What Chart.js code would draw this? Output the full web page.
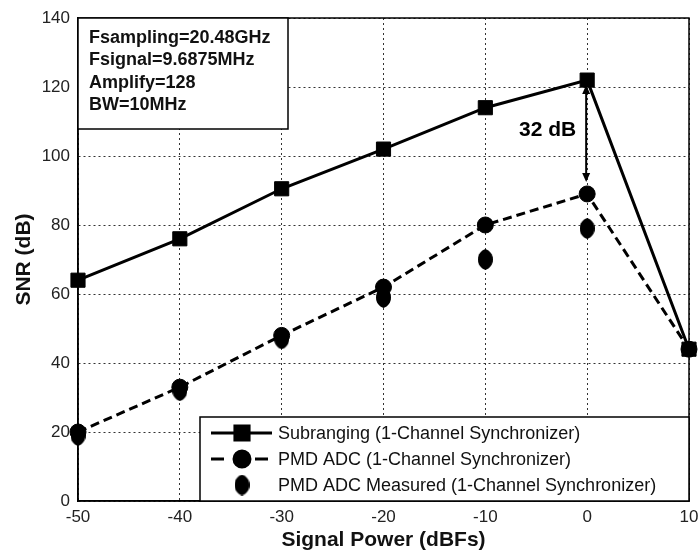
<!DOCTYPE html>
<html>
<head>
<meta charset="utf-8">
<script src="https://cdn.jsdelivr.net/npm/chart.js@4"></script>
<style>
html, body { margin: 0; padding: 0; background: #fff; }
</style>
</head>
<body>
<canvas id="graficoSnr" width="700" height="554"></canvas>
<script>
// Dados
const potenciaSinal = [-50, -40, -30, -20, -10, 0, 10];
const snrSubranging = [64, 76, 90.5, 102, 114, 122, 44];
const snrPmd = [20, 33, 48, 62, 80, 89, 44];
const potenciaMedida = [-50, -40, -30, -20, -10, 0];
const snrPmdMedido = [19, 32, 47, 59, 70, 79];
const ticksX = [-50, -40, -30, -20, -10, 0, 10];
const ticksY = [0, 20, 40, 60, 80, 100, 120, 140];
const rotulos = [
    'Subranging (1-Channel Synchronizer)',
    'PMD ADC (1-Channel Synchronizer)',
    'PMD ADC Measured (1-Channel Synchronizer)'
];
const textoInfo = ['Fsampling=20.48GHz', 'Fsignal=9.6875MHz', 'Amplify=128', 'BW=10MHz'];
const diferenca = { x: 0, de: 120.6, ate: 92.5, texto: '32 dB' };

// marcador "diamante" arredondado da série medida
function criaDiamante(w, h) {
    const c = document.createElement('canvas');
    c.width = w; c.height = h;
    const g = c.getContext('2d');
    g.fillStyle = '#000';
    g.beginPath();
    g.moveTo(w / 2, 0);
    g.bezierCurveTo(w * 0.8, h * 0.08, w, h * 0.25, w, h / 2);
    g.bezierCurveTo(w, h * 0.75, w * 0.8, h * 0.92, w / 2, h);
    g.bezierCurveTo(w * 0.2, h * 0.92, 0, h * 0.75, 0, h / 2);
    g.bezierCurveTo(0, h * 0.25, w * 0.2, h * 0.08, w / 2, 0);
    g.fill();
    return c;
}
const diamante = criaDiamante(15, 21);

const pontos = (xs, ys) => ys.map((y, i) => ({ x: xs[i], y: y }));

const molduraPlugin = {
    id: 'moldura',
    afterDraw(chart) {
        const ctx = chart.ctx;
        const a = chart.chartArea;
        const ys = chart.scales.y;
        const xs = chart.scales.x;
        ctx.save();
        // caixa do gráfico
        ctx.strokeStyle = '#000';
        ctx.lineWidth = 1.5;
        ctx.strokeRect(a.left, a.top, a.right - a.left, a.bottom - a.top);

        // caixa de informações
        ctx.fillStyle = '#fff';
        ctx.fillRect(a.left, a.top, 210, 111);
        ctx.strokeRect(a.left, a.top, 210, 111);
        ctx.fillStyle = '#111';
        ctx.font = 'bold 18px Arial, "Liberation Sans", sans-serif';
        ctx.textBaseline = 'alphabetic';
        textoInfo.forEach((t, i) => ctx.fillText(t, a.left + 11, a.top + 25 + i * 22.4));

        // seta de 32 dB
        const px = xs.getPixelForValue(diferenca.x) - 1;
        const y1 = ys.getPixelForValue(diferenca.de);
        const y2 = ys.getPixelForValue(diferenca.ate);
        ctx.fillStyle = '#000';
        ctx.lineWidth = 2;
        ctx.beginPath();
        ctx.moveTo(px, y1 + 6);
        ctx.lineTo(px, y2 - 6);
        ctx.stroke();
        ctx.beginPath();
        ctx.moveTo(px, y1); ctx.lineTo(px - 4, y1 + 9); ctx.lineTo(px + 4, y1 + 9); ctx.closePath();
        ctx.moveTo(px, y2); ctx.lineTo(px - 4, y2 - 9); ctx.lineTo(px + 4, y2 - 9); ctx.closePath();
        ctx.fill();
        ctx.font = 'bold 21px Arial, "Liberation Sans", sans-serif';
        ctx.textAlign = 'right';
        ctx.textBaseline = 'middle';
        ctx.fillText(diferenca.texto, px - 10, (y1 + y2) / 2 - 3);

        // legenda
        const lx = 200, ly = 417;
        ctx.fillStyle = '#fff';
        ctx.fillRect(lx, ly, a.right - lx, a.bottom - ly);
        ctx.lineWidth = 1.5;
        ctx.strokeRect(lx, ly, a.right - lx, a.bottom - ly);
        const linhas = [433, 459, 485];
        ctx.textAlign = 'left';
        ctx.font = '18px Arial, "Liberation Sans", sans-serif';
        chart.data.datasets.forEach((ds, i) => {
            const yy = linhas[i];
            ctx.save();
            ctx.strokeStyle = '#000';
            ctx.fillStyle = '#000';
            if (ds.showLine !== false) {
                ctx.lineWidth = 3;
                ctx.setLineDash(ds.borderDash ? [13, 9] : []);
                ctx.beginPath();
                ctx.moveTo(211, yy);
                ctx.lineTo(272, yy);
                ctx.stroke();
            }
            ctx.setLineDash([]);
            Chart.helpers.drawPoint(ctx, {
                pointStyle: ds.pointStyle,
                radius: ds.pointRadius,
                borderWidth: 1,
                rotation: 0
            }, 242, yy);
            ctx.fill();
            ctx.restore();
            ctx.fillStyle = '#111';
            ctx.fillText(ds.label, 278, yy + 1);
        });
        ctx.restore();
    }
};

const ctxSnr = document.getElementById('graficoSnr').getContext('2d');
new Chart(ctxSnr, {
    type: 'line',
    data: {
        datasets: [{
            label: rotulos[0],
            data: pontos(potenciaSinal, snrSubranging),
            borderColor: '#000',
            backgroundColor: '#000',
            borderWidth: 3,
            pointStyle: 'rect',
            pointRadius: 10,
            pointBorderWidth: 1,
            clip: false
        }, {
            label: rotulos[1],
            data: pontos(potenciaSinal, snrPmd),
            borderColor: '#000',
            backgroundColor: '#000',
            borderWidth: 3,
            borderDash: [9, 5],
            pointStyle: 'circle',
            pointRadius: 8,
            pointBorderWidth: 1,
            clip: false
        }, {
            label: rotulos[2],
            data: pontos(potenciaMedida, snrPmdMedido),
            borderColor: '#000',
            backgroundColor: '#000',
            showLine: false,
            pointStyle: diamante,
            pointRadius: 8,
            clip: false
        }]
    },
    options: {
        responsive: false,
        animation: false,
        devicePixelRatio: 1,
        layout: { padding: { top: 18, right: 6, left: 0, bottom: 0 } },
        plugins: { legend: { display: false }, tooltip: { enabled: false } },
        scales: {
            x: {
                type: 'linear',
                min: -50,
                max: 10,
                afterBuildTicks: s => { s.ticks = ticksX.map(v => ({ value: v })); },
                afterFit: s => { s.height = 53; s.paddingLeft = 0; s.paddingRight = 0; },
                grid: { color: '#333', lineWidth: 1, drawTicks: false },
                border: { display: true, color: '#000', width: 1.5, dash: [2, 3] },
                ticks: { color: '#222', font: { size: 17, family: 'Arial, "Liberation Sans", sans-serif' }, padding: 6, maxRotation: 0 },
                title: {
                    display: true,
                    text: 'Signal Power (dBFs)',
                    color: '#111',
                    font: { size: 21, weight: 'bold', family: 'Arial, "Liberation Sans", sans-serif' },
                    padding: { top: 0, bottom: 1 }
                }
            },
            y: {
                min: 0,
                max: 140,
                afterBuildTicks: s => { s.ticks = ticksY.map(v => ({ value: v })); },
                afterFit: s => { s.width = 78; s.paddingTop = 0; s.paddingBottom = 0; },
                grid: { color: '#333', lineWidth: 1, drawTicks: false },
                border: { display: true, color: '#000', width: 1.5, dash: [2, 3] },
                ticks: { color: '#222', font: { size: 17, family: 'Arial, "Liberation Sans", sans-serif' }, padding: 8 },
                title: {
                    display: true,
                    text: 'SNR (dB)',
                    color: '#111',
                    font: { size: 21, weight: 'bold', family: 'Arial, "Liberation Sans", sans-serif' },
                    padding: { top: 12, bottom: 0 }
                }
            }
        }
    },
    plugins: [molduraPlugin]
});
</script>
</body>
</html>
